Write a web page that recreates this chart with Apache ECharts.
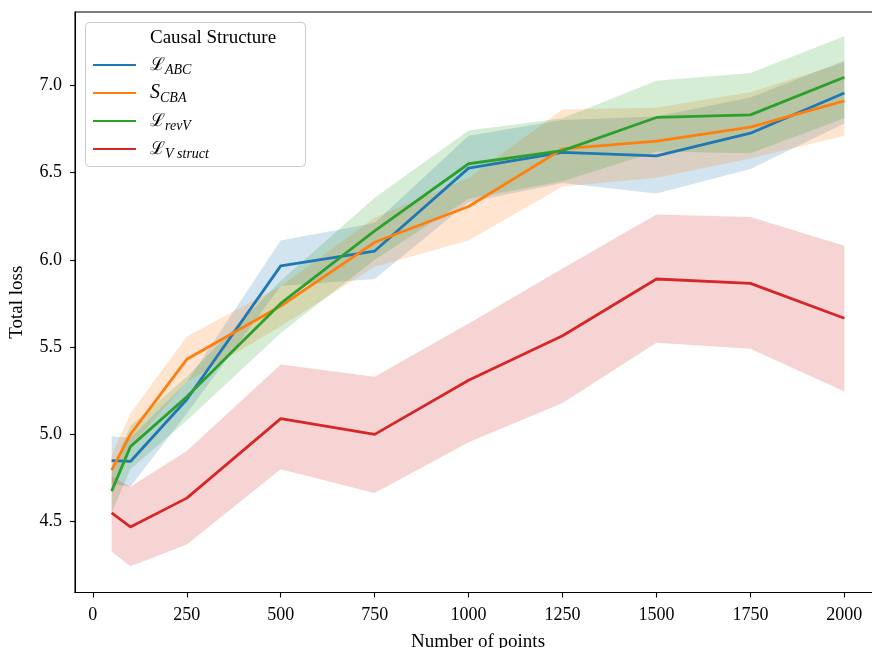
<!DOCTYPE html>
<html>
<head>
<meta charset="utf-8">
<script src="https://cdn.jsdelivr.net/npm/echarts@6/dist/echarts.min.js"></script>
<style>html,body{margin:0;padding:0;background:#fff}#c{width:872px;height:648px}</style>
</head>
<body>
<div id="c"></div>
<script>
const xs = [50, 100, 250, 500, 750, 1000, 1250, 1500, 1750, 2000];
const xTicks = [0, 250, 500, 750, 1000, 1250, 1500, 1750, 2000];
const yTicks = [4.5, 5.0, 5.5, 6.0, 6.5, 7.0];

const abcMean = [4.85, 4.845, 5.20, 5.965, 6.05, 6.525, 6.615, 6.595, 6.725, 6.955];
const abcLow  = [4.72, 4.70, 5.12, 5.85, 5.89, 6.33, 6.44, 6.38, 6.52, 6.78];
const abcHigh = [4.99, 4.98, 5.30, 6.11, 6.21, 6.71, 6.80, 6.82, 6.93, 7.14];

const cbaMean = [4.795, 5.0, 5.43, 5.735, 6.10, 6.305, 6.635, 6.68, 6.76, 6.91];
const cbaLow  = [4.68, 4.93, 5.30, 5.62, 5.96, 6.11, 6.42, 6.47, 6.58, 6.71];
const cbaHigh = [4.88, 5.12, 5.56, 5.85, 6.24, 6.47, 6.86, 6.87, 6.96, 7.13];

const revMean = [4.675, 4.93, 5.215, 5.75, 6.165, 6.55, 6.625, 6.815, 6.83, 7.045];
const revLow  = [4.55, 4.80, 5.08, 5.58, 6.00, 6.35, 6.45, 6.62, 6.61, 6.81];
const revHigh = [4.79, 5.05, 5.33, 5.88, 6.355, 6.74, 6.81, 7.025, 7.07, 7.28];

const vsMean = [4.55, 4.47, 4.635, 5.09, 5.0, 5.31, 5.565, 5.89, 5.865, 5.665];
const vsLow  = [4.33, 4.245, 4.37, 4.80, 4.665, 4.955, 5.18, 5.525, 5.49, 5.245];
const vsHigh = [4.76, 4.70, 4.905, 5.40, 5.33, 5.635, 5.95, 6.26, 6.245, 6.08];

const groups = [
  {name: 'L_ABC', color: '#1f77b4', mean: abcMean, low: abcLow, high: abcHigh},
  {name: 'S_CBA', color: '#ff7f0e', mean: cbaMean, low: cbaLow, high: cbaHigh},
  {name: 'L_revV', color: '#2ca02c', mean: revMean, low: revLow, high: revHigh},
  {name: 'L_Vstruct', color: '#d62728', mean: vsMean, low: vsLow, high: vsHigh}
];
const legendLabels = {
  'L_ABC': '{p|}{m|ℒ}{s|ABC}',
  'S_CBA': '{p|}{mi|S}{s|CBA}',
  'L_revV': '{p|}{m|ℒ}{s|revV}',
  'L_Vstruct': '{p|}{m|ℒ}{s|V struct}'
};

const FONT = 'Liberation Serif, DejaVu Serif, serif';
const series = [];
groups.forEach((g, gi) => {
  series.push({
    type: 'custom', name: g.name + '_band', silent: true, z: 2,
    data: [[xs[0], g.low[0]]],
    renderItem: (params, api) => {
      const pts = [];
      for (let i = 0; i < xs.length; i++) pts.push(api.coord([xs[i], g.high[i]]));
      for (let i = xs.length - 1; i >= 0; i--) pts.push(api.coord([xs[i], g.low[i]]));
      return {type: 'polygon', shape: {points: pts}, style: {fill: g.color, opacity: 0.2}};
    }
  });
  series.push({
    type: 'line', name: g.name, silent: true,
    data: xs.map((x, i) => [x, g.mean[i]]),
    symbol: 'none', showSymbol: false,
    lineStyle: {color: g.color, width: 2.8}, itemStyle: {color: g.color}, z: 3
  });
});

const chart = echarts.init(document.getElementById('c'), null, {renderer: 'canvas'});
chart.setOption({
  animation: false,
  backgroundColor: '#fff',
  grid: {left: 75, right: -9, top: 12, bottom: 55.5, containLabel: false, outerBoundsMode: 'none',
    show: true, borderColor: '#000', borderWidth: 1.1, backgroundColor: 'transparent'},
  xAxis: {
    type: 'value', min: -47.5, max: 2097.5,
    name: 'Number of points', nameLocation: 'middle', nameGap: 40,
    nameTextStyle: {fontFamily: FONT, fontSize: 19, color: '#000'},
    axisLine: {show: true, onZero: false, lineStyle: {color: '#000', width: 1.1}},
    axisTick: {show: true, length: 5, lineStyle: {color: '#000', width: 1.1}, customValues: xTicks},
    axisLabel: {fontFamily: FONT, fontSize: 18, color: '#000', margin: 14, customValues: xTicks,
      formatter: v => String(v)},
    splitLine: {show: false}
  },
  yAxis: {
    type: 'value', min: 4.0945, max: 7.419,
    name: 'Total loss', nameLocation: 'middle', nameGap: 48,
    nameTextStyle: {fontFamily: FONT, fontSize: 19, color: '#000'},
    axisLine: {show: true, onZero: false, lineStyle: {color: '#000', width: 1.1}},
    axisTick: {show: true, length: 5, lineStyle: {color: '#000', width: 1.1}, customValues: yTicks},
    axisLabel: {fontFamily: FONT, fontSize: 18, color: '#000', margin: 13, customValues: yTicks,
      formatter: v => v.toFixed(1)},
    splitLine: {show: false}
  },
  legend: {
    orient: 'vertical', left: 92, top: 53, padding: 0, z: 30,
    itemWidth: 43, itemHeight: 24, itemGap: 4,
    itemStyle: {opacity: 0},
    data: groups.map(g => g.name),
    formatter: n => legendLabels[n],
    textStyle: {
      fontFamily: FONT, fontSize: 19, color: '#000', lineHeight: 24,
      rich: {
        p: {width: 9},
        m: {fontFamily: 'DejaVu Serif, serif', fontSize: 18, lineHeight: 24, color: '#000'},
        mi: {fontFamily: FONT, fontStyle: 'italic', fontSize: 20, lineHeight: 24, color: '#000'},
        s: {fontFamily: FONT, fontStyle: 'italic', fontSize: 14, lineHeight: 12, verticalAlign: 'bottom', color: '#000'}
      }
    }
  },
  graphic: [
    {type: 'rect', z: 25, shape: {x: 85.5, y: 22.5, width: 220, height: 144, r: 4},
     style: {fill: 'rgba(255,255,255,0.8)', stroke: '#cccccc', lineWidth: 1}},
    {type: 'text', z: 30, x: 150, y: 38,
     style: {text: 'Causal Structure', font: '19px ' + FONT, fill: '#000', textVerticalAlign: 'middle'}}
  ],
  series: series
});
</script>
</body>
</html>
